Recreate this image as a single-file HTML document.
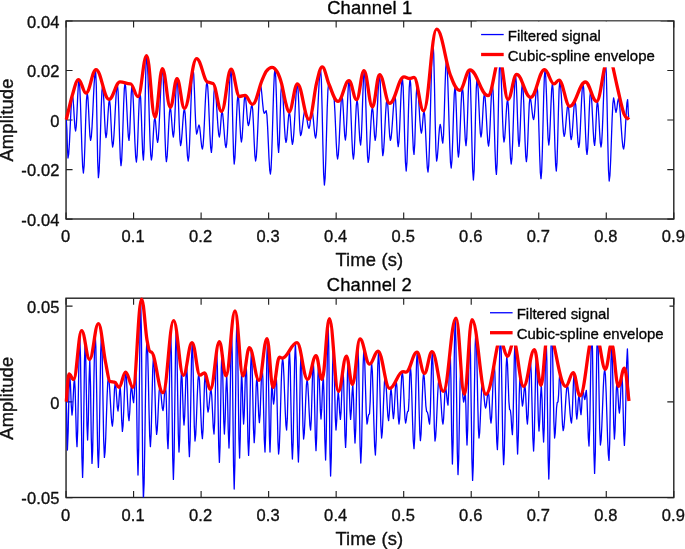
<!DOCTYPE html>
<html lang="en"><head><meta charset="utf-8"><title>Filtered signal and cubic-spline envelope</title>
<style>
html,body{margin:0;padding:0;background:#fff;}
body{width:685px;height:549px;overflow:hidden;}
svg{display:block;will-change:transform;font-family:"Liberation Sans",sans-serif;}
text{stroke:#111;stroke-width:.35px;stroke-linejoin:round;}
.tk{font-size:16.5px;letter-spacing:.15px;fill:#111;}
.lg{font-size:14.95px;fill:#000;}
.lb{font-size:18.4px;letter-spacing:.15px;fill:#111;}
.tt{font-size:18.4px;letter-spacing:.15px;fill:#000;}
</style></head><body>
<svg width="685" height="549" viewBox="0 0 685 549">
<defs><clipPath id="c1"><rect x="66.05" y="20.95" width="607.75" height="198.05"/></clipPath>
<clipPath id="c2"><rect x="66.05" y="298.20" width="607.75" height="199.30"/></clipPath></defs>
<rect width="685" height="549" fill="#fff"/>
<rect x="66.05" y="20.95" width="607.75" height="198.05" fill="none" stroke="#222" stroke-width="1.4"/><path d="M66.05 219.00v-6.50M66.05 20.95v6.50M133.58 219.00v-6.50M133.58 20.95v6.50M201.11 219.00v-6.50M201.11 20.95v6.50M268.63 219.00v-6.50M268.63 20.95v6.50M336.16 219.00v-6.50M336.16 20.95v6.50M403.69 219.00v-6.50M403.69 20.95v6.50M471.22 219.00v-6.50M471.22 20.95v6.50M538.74 219.00v-6.50M538.74 20.95v6.50M606.27 219.00v-6.50M606.27 20.95v6.50M673.80 219.00v-6.50M673.80 20.95v6.50M66.05 20.95h6.50M673.80 20.95h-6.50M66.05 70.49h6.50M673.80 70.49h-6.50M66.05 120.03h6.50M673.80 120.03h-6.50M66.05 169.56h6.50M673.80 169.56h-6.50M66.05 219.10h6.50M673.80 219.10h-6.50" stroke="#222" stroke-width="1.15" fill="none"/><text x="65.65" y="242.40" text-anchor="middle" class="tk">0</text><text x="133.18" y="242.40" text-anchor="middle" class="tk">0.1</text><text x="200.71" y="242.40" text-anchor="middle" class="tk">0.2</text><text x="268.23" y="242.40" text-anchor="middle" class="tk">0.3</text><text x="335.76" y="242.40" text-anchor="middle" class="tk">0.4</text><text x="403.29" y="242.40" text-anchor="middle" class="tk">0.5</text><text x="470.82" y="242.40" text-anchor="middle" class="tk">0.6</text><text x="538.34" y="242.40" text-anchor="middle" class="tk">0.7</text><text x="605.87" y="242.40" text-anchor="middle" class="tk">0.8</text><text x="673.40" y="242.40" text-anchor="middle" class="tk">0.9</text><text x="59.6" y="27.75" text-anchor="end" class="tk">0.04</text><text x="59.6" y="77.29" text-anchor="end" class="tk">0.02</text><text x="59.6" y="126.83" text-anchor="end" class="tk">0</text><text x="59.6" y="176.36" text-anchor="end" class="tk">-0.02</text><text x="59.6" y="225.90" text-anchor="end" class="tk">-0.04</text>
<path clip-path="url(#c1)" d="M66.30 119.70L66.87 129.28 67.43 148.43 68.00 158.00 68.73 153.80 69.47 142.32 70.20 126.65 70.93 110.97 71.67 99.50 72.40 95.30 73.04 98.71 73.68 107.63 74.32 118.67 74.96 127.59 75.60 131.00 76.28 126.13 76.96 113.39 77.64 97.65 78.32 84.91 79.00 80.04 79.73 86.27 80.47 103.28 81.20 126.52 81.93 149.76 82.67 166.77 83.40 173.00 84.16 165.33 84.92 145.25 85.68 120.43 86.44 100.35 87.20 92.68 87.88 97.24 88.56 109.17 89.24 123.91 89.92 135.84 90.60 140.40 91.31 136.91 92.03 127.14 92.74 113.03 93.46 97.36 94.17 83.24 94.89 73.48 95.60 69.99 96.30 85.75 97.00 123.79 97.70 161.84 98.40 177.60 99.10 171.41 99.80 154.48 100.50 131.37 101.20 108.25 101.90 91.32 102.60 85.13 103.28 90.14 103.96 103.26 104.64 119.47 105.32 132.59 106.00 137.60 106.70 133.96 107.40 124.44 108.10 112.67 108.80 103.15 109.50 99.52 110.28 106.47 111.05 123.26 111.82 140.05 112.60 147.00 113.29 143.90 113.97 135.21 114.66 122.65 115.34 108.71 116.03 96.15 116.71 87.45 117.40 84.35 118.12 92.11 118.84 112.42 119.56 137.53 120.28 157.84 121.00 165.60 121.67 160.07 122.33 144.98 123.00 124.35 123.67 103.73 124.33 88.63 125.00 83.10 125.67 86.94 126.33 97.43 127.00 111.75 127.67 126.08 128.33 136.56 129.00 140.40 129.75 132.32 130.50 112.81 131.25 93.30 132.00 85.22 132.73 90.36 133.47 104.41 134.20 123.61 134.93 142.80 135.67 156.86 136.40 162.00 137.12 155.33 137.84 137.87 138.56 116.30 139.28 98.84 140.00 92.17 140.68 98.65 141.36 115.60 142.04 136.57 142.72 153.52 143.40 160.00 144.04 150.06 144.68 124.03 145.32 91.87 145.96 65.84 146.60 55.90 147.29 61.05 147.97 75.50 148.66 96.37 149.34 119.53 150.03 140.40 150.71 154.85 151.40 160.00 152.08 155.94 152.76 145.32 153.44 132.19 154.12 121.57 154.80 117.51 155.50 121.15 156.20 129.95 156.90 138.75 157.60 142.40 158.29 138.76 158.97 128.56 159.66 113.83 160.34 97.47 161.03 82.74 161.71 72.54 162.40 68.90 163.07 75.11 163.73 92.07 164.40 115.25 165.07 138.42 165.73 155.39 166.40 161.60 167.16 156.44 167.92 142.92 168.68 126.22 169.44 112.70 170.20 107.54 170.84 110.35 171.48 117.72 172.12 126.82 172.76 134.19 173.40 137.00 174.12 131.45 174.84 116.93 175.56 98.97 176.28 84.45 177.00 78.90 177.72 85.27 178.44 101.94 179.16 122.56 179.88 139.23 180.60 145.60 181.36 142.07 182.12 132.82 182.88 121.38 183.64 112.13 184.40 108.60 185.16 113.60 185.92 126.70 186.68 142.90 187.44 156.00 188.20 161.00 188.89 156.41 189.57 143.54 190.26 124.94 190.94 104.30 191.63 85.71 192.31 72.84 193.00 68.25 193.72 74.52 194.44 90.96 195.16 111.28 195.88 127.72 196.60 134.00 197.40 131.75 198.20 127.25 199.00 125.00 199.68 127.29 200.36 133.29 201.04 140.71 201.72 146.71 202.40 149.00 203.06 145.68 203.71 136.38 204.37 122.94 205.03 108.02 205.69 94.57 206.34 85.27 207.00 81.95 207.73 86.67 208.47 99.56 209.20 117.18 209.93 134.79 210.67 147.68 211.40 152.40 212.04 146.12 212.68 129.70 213.32 109.39 213.96 92.96 214.60 86.69 215.29 89.18 215.97 96.16 216.66 106.25 217.34 117.44 218.03 127.53 218.71 134.51 219.40 137.00 220.05 133.25 220.70 124.21 221.35 115.17 222.00 111.42 222.67 113.84 223.33 120.47 224.00 129.51 224.67 138.56 225.33 145.18 226.00 147.60 226.71 143.73 227.43 132.90 228.14 117.24 228.86 99.86 229.57 84.20 230.29 73.37 231.00 69.50 231.64 78.52 232.28 102.15 232.92 131.35 233.56 154.98 234.20 164.00 234.96 157.39 235.72 140.07 236.48 118.67 237.24 101.36 238.00 94.74 238.68 99.26 239.36 111.07 240.04 125.67 240.72 137.49 241.40 142.00 242.12 137.58 242.84 125.99 243.56 111.68 244.28 100.10 245.00 95.67 245.68 98.53 246.36 106.01 247.04 115.26 247.72 122.74 248.40 125.60 249.12 123.60 249.84 118.35 250.56 111.86 251.28 106.61 252.00 104.60 252.72 109.99 253.44 124.09 254.16 141.52 254.88 155.61 255.60 161.00 256.29 157.25 256.97 146.74 257.66 131.55 258.34 114.70 259.03 99.51 259.71 89.00 260.40 85.25 261.16 87.94 261.92 94.98 262.68 103.67 263.44 110.71 264.20 113.40 264.87 112.75 265.53 111.45 266.20 110.80 266.90 115.03 267.60 126.60 268.30 142.40 269.00 158.20 269.70 169.77 270.40 174.00 271.06 168.80 271.71 154.25 272.37 133.21 273.03 109.86 273.69 88.82 274.34 74.26 275.00 69.06 275.72 77.02 276.44 97.86 277.16 123.61 277.88 144.44 278.60 152.40 279.35 142.37 280.10 118.15 280.85 93.93 281.60 83.90 282.33 87.82 283.07 98.52 283.80 113.15 284.53 127.78 285.27 138.48 286.00 142.40 286.68 139.50 287.36 131.92 288.04 122.55 288.72 114.97 289.40 112.07 290.15 116.81 290.90 128.24 291.65 139.67 292.40 144.40 293.11 141.42 293.83 133.09 294.54 121.04 295.26 107.66 295.97 95.61 296.69 87.28 297.40 84.30 298.04 89.20 298.68 102.02 299.32 117.88 299.96 130.70 300.60 135.60 301.33 133.93 302.07 129.35 302.80 123.11 303.53 116.86 304.27 112.28 305.00 110.61 305.67 111.80 306.33 115.06 307.00 119.51 307.67 123.95 308.33 127.21 309.00 128.40 309.75 125.87 310.50 119.75 311.25 113.63 312.00 111.10 312.72 113.66 313.44 120.39 314.16 128.70 314.88 135.43 315.60 138.00 316.31 134.57 317.03 124.96 317.74 111.07 318.46 95.66 319.17 81.77 319.89 72.16 320.60 68.73 321.36 79.83 322.12 108.90 322.88 144.83 323.64 173.90 324.40 185.00 325.10 178.21 325.80 159.66 326.50 134.32 327.20 108.98 327.90 90.43 328.60 83.64 329.24 84.41 329.88 86.44 330.52 88.94 331.16 90.96 331.80 91.73 332.40 92.88 333.00 95.17 333.60 96.31 334.27 100.51 334.93 111.98 335.60 127.66 336.27 143.33 336.93 154.80 337.60 159.00 338.33 154.76 339.07 143.19 339.80 127.38 340.53 111.58 341.27 100.00 342.00 95.77 342.68 99.99 343.36 111.05 344.04 124.72 344.72 135.78 345.40 140.00 346.12 134.36 346.84 119.58 347.56 101.32 348.28 86.54 349.00 80.90 349.73 86.13 350.47 100.42 351.20 119.95 351.93 139.47 352.67 153.77 353.40 159.00 354.12 153.35 354.84 138.55 355.56 120.26 356.28 105.47 357.00 99.81 357.72 104.13 358.44 115.43 359.16 129.39 359.88 140.69 360.60 145.00 361.32 137.93 362.04 119.42 362.76 96.54 363.48 78.02 364.20 70.95 364.87 77.08 365.53 93.82 366.20 116.68 366.87 139.54 367.53 156.27 368.20 162.40 368.90 158.70 369.60 148.60 370.30 134.80 371.00 121.00 371.70 110.90 372.40 107.20 373.10 112.06 373.80 123.80 374.50 135.54 375.20 140.40 375.93 136.01 376.67 124.03 377.40 107.65 378.13 91.28 378.87 79.29 379.60 74.90 380.24 82.61 380.88 102.78 381.52 127.72 382.16 147.89 382.80 155.60 383.50 151.83 384.20 141.55 384.90 127.50 385.60 113.44 386.30 103.16 387.00 99.39 387.68 103.31 388.36 113.56 389.04 126.23 389.72 136.48 390.40 140.40 391.06 138.19 391.71 131.99 392.37 123.03 393.03 113.09 393.69 104.14 394.34 97.94 395.00 95.73 395.64 100.59 396.28 113.30 396.92 129.02 397.56 141.74 398.20 146.60 398.90 142.00 399.60 129.44 400.30 112.28 401.00 95.12 401.70 82.56 402.40 77.96 403.16 86.84 403.92 110.10 404.68 138.86 405.44 162.12 406.20 171.00 406.96 162.19 407.72 139.14 408.48 110.64 409.24 87.58 410.00 78.77 410.67 83.84 411.33 97.68 412.00 116.59 412.67 135.49 413.33 149.33 414.00 154.40 414.75 144.20 415.50 119.56 416.25 94.93 417.00 84.73 417.73 87.96 418.47 96.80 419.20 108.86 419.93 120.93 420.67 129.77 421.40 133.00 422.05 129.78 422.70 122.02 423.35 114.25 424.00 111.03 424.67 115.12 425.33 126.27 426.00 141.52 426.67 156.76 427.33 167.92 428.00 172.00 428.71 165.62 429.43 147.73 430.14 121.88 430.86 93.19 431.57 67.34 432.29 49.45 433.00 43.07 433.72 54.33 434.44 83.81 435.16 120.26 435.88 149.74 436.60 161.00 437.32 157.51 438.04 148.36 438.76 137.04 439.48 127.89 440.20 124.40 440.85 127.12 441.50 133.70 442.15 140.28 442.80 143.00 443.52 135.13 444.24 114.52 444.96 89.05 445.68 68.44 446.40 60.56 447.09 65.88 447.77 80.79 448.46 102.33 449.14 126.24 449.83 147.77 450.51 162.68 451.20 168.00 451.96 160.21 452.72 139.83 453.48 114.64 454.24 94.26 455.00 86.47 455.68 93.21 456.36 110.84 457.04 132.63 457.72 150.27 458.40 157.00 459.07 152.34 459.73 139.60 460.40 122.21 461.07 104.81 461.73 92.08 462.40 87.42 463.12 92.97 463.84 107.52 464.56 125.50 465.28 140.04 466.00 145.60 466.72 138.42 467.44 119.61 468.16 96.36 468.88 77.55 469.60 70.37 470.36 80.84 471.12 108.25 471.88 142.12 472.64 169.53 473.40 180.00 474.12 170.31 474.84 144.94 475.56 113.58 476.28 88.21 477.00 78.52 477.67 82.44 478.33 93.14 479.00 107.76 479.67 122.38 480.33 133.08 481.00 137.00 481.68 132.87 482.36 122.06 483.04 108.71 483.72 97.90 484.40 93.77 485.10 97.27 485.80 106.83 486.50 119.89 487.20 132.94 487.90 142.50 488.60 146.00 489.36 140.17 490.12 124.92 490.88 106.06 491.64 90.81 492.40 84.98 493.07 90.97 493.73 107.33 494.40 129.69 495.07 152.04 495.73 168.41 496.40 174.40 497.12 163.49 497.84 134.91 498.56 99.59 499.28 71.02 500.00 60.11 500.67 65.59 501.33 80.58 502.00 101.05 502.67 121.53 503.33 136.51 504.00 142.00 504.72 137.93 505.44 127.28 506.16 114.11 506.88 103.46 507.60 99.39 508.32 105.56 509.04 121.71 509.76 141.68 510.48 157.83 511.20 164.00 511.93 158.07 512.67 141.86 513.40 119.71 514.13 97.57 514.87 81.36 515.60 75.42 516.28 82.20 516.96 99.95 517.64 121.88 518.32 139.62 519.00 146.40 519.68 140.34 520.36 124.47 521.04 104.86 521.72 88.99 522.40 82.93 523.07 88.20 523.73 102.60 524.40 122.27 525.07 141.93 525.73 156.33 526.40 161.60 527.12 155.48 527.84 139.45 528.56 119.65 529.28 103.62 530.00 97.50 530.72 99.61 531.44 105.14 532.16 111.97 532.88 117.49 533.60 119.60 534.28 116.37 534.96 107.90 535.64 97.43 536.32 88.96 537.00 85.73 537.67 91.95 538.33 108.94 539.00 132.16 539.67 155.38 540.33 172.38 541.00 178.60 541.67 171.32 542.33 151.44 543.00 124.29 543.67 97.13 544.33 77.25 545.00 69.97 545.76 77.14 546.52 95.89 547.28 119.08 548.04 137.84 548.80 145.00 549.52 139.11 550.24 123.69 550.96 104.63 551.68 89.21 552.40 83.32 553.05 89.19 553.70 105.24 554.35 127.16 555.00 149.08 555.65 165.13 556.30 171.00 557.00 162.38 557.70 139.81 558.40 111.91 559.10 89.34 559.80 80.72 560.53 84.45 561.27 94.64 562.00 108.56 562.73 122.48 563.47 132.67 564.20 136.40 564.96 133.40 565.72 125.56 566.48 115.87 567.24 108.02 568.00 105.03 568.64 108.33 569.28 116.97 569.92 127.66 570.56 136.30 571.20 139.60 571.96 135.90 572.72 126.20 573.48 114.21 574.24 104.51 575.00 100.80 575.76 105.25 576.52 116.90 577.28 131.30 578.04 142.95 578.80 147.40 579.50 143.12 580.20 131.44 580.90 115.47 581.60 99.51 582.30 87.82 583.00 83.55 583.67 88.29 584.33 101.26 585.00 118.97 585.67 136.69 586.33 149.65 587.00 154.40 587.72 148.33 588.44 132.43 589.16 112.78 589.88 96.88 590.60 90.81 591.27 94.46 591.93 104.45 592.60 118.10 593.27 131.75 593.93 141.74 594.60 145.40 595.30 138.91 596.00 123.26 596.70 107.60 597.40 101.11 598.12 105.50 598.84 116.97 599.56 131.15 600.28 142.62 601.00 147.00 601.66 142.81 602.31 131.09 602.97 114.14 603.63 95.34 604.29 78.39 604.94 66.66 605.60 62.48 606.32 73.80 607.04 103.43 607.76 140.05 608.48 169.68 609.20 181.00 609.93 175.44 610.67 160.25 611.40 139.50 612.13 118.75 612.87 103.56 613.60 98.00 614.40 101.60 615.20 108.80 616.00 112.40 616.80 108.95 617.60 102.05 618.40 98.60 619.14 101.10 619.89 108.09 620.63 118.19 621.37 129.41 622.11 139.51 622.86 146.50 623.60 149.00 624.27 145.69 624.93 136.65 625.60 124.30 626.27 111.95 626.93 102.91 627.60 99.60 627.93 103.95 628.27 112.65 628.60 117.00" fill="none" stroke="#00f" stroke-width="1.3" stroke-linejoin="round"/>
<path d="M66.30 119.70C68.33 111.47 70.37 101.62 72.40 95.00C74.47 88.27 76.12 79.66 78.60 79.66C81.56 79.66 83.04 93.11 86.00 93.11C90.00 93.11 92.00 69.60 96.00 69.60C101.20 69.60 103.80 99.30 109.00 99.30C113.40 99.30 115.60 81.95 120.00 81.95C124.20 81.95 126.30 83.80 130.50 83.80C133.50 83.80 135.00 96.70 138.00 96.70C141.44 96.70 143.16 55.60 146.60 55.60C149.96 55.60 151.64 117.30 155.00 117.30C157.96 117.30 159.44 68.60 162.40 68.60C165.60 68.60 167.20 107.30 170.40 107.30C173.04 107.30 174.36 78.60 177.00 78.60C179.96 78.60 181.44 108.30 184.40 108.30C189.28 108.30 191.72 58.60 196.60 58.60C201.24 58.60 203.56 82.20 208.20 82.20C209.96 82.20 210.84 83.40 212.60 83.40C216.20 83.40 218.00 111.30 221.60 111.30C225.36 111.30 227.24 69.20 231.00 69.20C234.44 69.20 236.16 96.49 239.60 96.49C241.76 96.49 242.84 95.37 245.00 95.37C247.96 95.37 249.44 104.36 252.40 104.36C256.20 104.36 258.73 88.25 261.90 80.70C263.37 77.20 264.83 73.15 266.30 71.20C268.20 68.68 269.72 67.29 272.00 67.29C274.08 67.29 275.47 68.96 277.20 71.90C278.67 74.39 280.13 78.31 281.60 83.60C282.83 88.05 284.07 96.38 285.30 101.10C286.53 105.82 287.52 111.92 289.00 111.92C292.36 111.92 294.04 84.00 297.40 84.00C302.04 84.00 304.36 119.30 309.00 119.30C312.04 119.30 314.07 92.86 316.60 82.80C318.47 75.39 319.96 66.90 322.20 66.90C324.92 66.90 326.73 79.36 329.00 84.30C332.00 90.83 334.40 101.30 338.00 101.30C342.40 101.30 344.60 80.60 349.00 80.60C352.04 80.60 353.56 99.70 356.60 99.70C359.56 99.70 361.04 70.60 364.00 70.60C367.36 70.60 369.04 106.90 372.40 106.90C375.28 106.90 376.72 74.60 379.60 74.60C383.60 74.60 385.60 103.30 389.60 103.30C395.36 103.30 398.24 76.96 404.00 76.96C406.24 76.96 407.36 78.49 409.60 78.49C411.36 78.49 412.24 77.37 414.00 77.37C417.84 77.37 419.76 110.90 423.60 110.90C428.80 110.90 431.40 29.20 436.60 29.20C441.96 29.20 445.53 62.13 450.00 74.00C453.20 82.50 455.76 90.30 459.60 90.30C463.76 90.30 465.84 70.00 470.00 70.00C477.20 70.00 480.80 95.70 488.00 95.70C492.64 95.70 494.96 59.60 499.60 59.60C502.96 59.60 504.64 99.30 508.00 99.30C511.44 99.30 513.16 74.40 516.60 74.40C522.20 74.40 525.00 97.30 530.60 97.30C536.20 97.30 539.00 69.61 544.60 69.61C548.36 69.61 550.24 83.92 554.00 83.92C556.00 83.92 557.00 80.10 559.00 80.10C563.32 80.10 565.48 106.30 569.80 106.30C576.04 106.30 579.16 82.00 585.40 82.00C589.88 82.00 592.12 101.30 596.60 101.30C599.80 101.30 601.93 78.70 604.60 67.40C606.00 61.47 607.12 49.60 608.80 49.60C610.48 49.60 611.60 61.25 613.00 67.40C614.67 74.72 616.33 82.94 618.00 90.00C620.00 98.47 622.00 108.64 624.00 114.00C625.67 118.47 627.33 117.67 629.00 119.50" fill="none" stroke="#f00" stroke-width="3.3" stroke-linejoin="round" stroke-linecap="butt"/>
<rect x="476.60" y="21.60" width="184" height="45.7" fill="#fff"/><path d="M481.10 34.55h22.6" stroke="#00f" stroke-width="1.3"/><path d="M481.10 54.50h22.6" stroke="#f00" stroke-width="3.3"/><text x="507.80" y="40.70" class="lg">Filtered signal</text><text x="507.80" y="60.60" class="lg">Cubic-spline envelope</text>
<text x="369.8" y="13.6" text-anchor="middle" class="tt">Channel 1</text>
<text x="369.4" y="266.2" text-anchor="middle" class="lb">Time (s)</text>
<text transform="translate(13.4 120.0) rotate(-90)" text-anchor="middle" class="lb">Amplitude</text>
<rect x="66.05" y="298.20" width="607.75" height="199.30" fill="none" stroke="#222" stroke-width="1.4"/><path d="M66.05 497.50v-6.50M66.05 298.20v6.50M133.58 497.50v-6.50M133.58 298.20v6.50M201.11 497.50v-6.50M201.11 298.20v6.50M268.63 497.50v-6.50M268.63 298.20v6.50M336.16 497.50v-6.50M336.16 298.20v6.50M403.69 497.50v-6.50M403.69 298.20v6.50M471.22 497.50v-6.50M471.22 298.20v6.50M538.74 497.50v-6.50M538.74 298.20v6.50M606.27 497.50v-6.50M606.27 298.20v6.50M673.80 497.50v-6.50M673.80 298.20v6.50M66.05 306.10h6.50M673.80 306.10h-6.50M66.05 401.85h6.50M673.80 401.85h-6.50M66.05 497.60h6.50M673.80 497.60h-6.50" stroke="#222" stroke-width="1.15" fill="none"/><text x="65.65" y="520.90" text-anchor="middle" class="tk">0</text><text x="133.18" y="520.90" text-anchor="middle" class="tk">0.1</text><text x="200.71" y="520.90" text-anchor="middle" class="tk">0.2</text><text x="268.23" y="520.90" text-anchor="middle" class="tk">0.3</text><text x="335.76" y="520.90" text-anchor="middle" class="tk">0.4</text><text x="403.29" y="520.90" text-anchor="middle" class="tk">0.5</text><text x="470.82" y="520.90" text-anchor="middle" class="tk">0.6</text><text x="538.34" y="520.90" text-anchor="middle" class="tk">0.7</text><text x="605.87" y="520.90" text-anchor="middle" class="tk">0.8</text><text x="673.40" y="520.90" text-anchor="middle" class="tk">0.9</text><text x="59.6" y="312.90" text-anchor="end" class="tk">0.05</text><text x="59.6" y="408.65" text-anchor="end" class="tk">0</text><text x="59.6" y="504.40" text-anchor="end" class="tk">-0.05</text>
<path clip-path="url(#c2)" d="M66.30 401.60L66.67 413.70 67.03 437.90 67.40 450.00 68.17 431.11 68.93 393.33 69.70 374.44 70.47 384.58 71.23 404.86 72.00 415.00 72.62 409.65 73.25 396.72 73.88 383.79 74.50 378.44 75.12 388.42 75.75 412.52 76.38 436.62 77.00 446.60 77.70 430.44 78.40 391.43 79.10 352.42 79.80 336.27 80.50 356.94 81.20 406.83 81.90 456.73 82.60 477.40 83.22 457.61 83.85 409.84 84.47 362.07 85.10 342.29 85.72 356.60 86.35 391.14 86.97 425.69 87.60 440.00 88.33 419.89 89.07 379.66 89.80 359.55 90.53 385.51 91.27 437.44 92.00 463.40 92.64 451.04 93.28 418.68 93.92 378.68 94.56 346.32 95.20 333.96 95.84 346.70 96.48 380.06 97.12 421.30 97.76 454.66 98.40 467.40 99.15 447.85 99.90 400.65 100.65 353.45 101.40 333.90 102.15 351.98 102.90 395.65 103.65 439.31 104.40 457.40 105.07 452.03 105.73 437.37 106.40 417.34 107.07 397.30 107.73 382.64 108.40 377.27 109.07 380.54 109.73 389.45 110.40 401.64 111.07 413.82 111.73 422.74 112.40 426.00 113.10 419.66 113.80 404.35 114.50 389.04 115.20 382.70 115.90 386.85 116.60 396.85 117.30 406.86 118.00 411.00 118.73 404.86 119.47 392.59 120.20 386.45 120.93 397.69 121.67 420.16 122.40 431.40 123.06 425.78 123.72 411.06 124.38 392.87 125.04 378.15 125.70 372.53 126.36 377.12 127.02 389.14 127.68 403.99 128.34 416.01 129.00 420.60 129.77 411.91 130.53 394.52 131.30 385.82 132.07 390.02 132.83 398.41 133.60 402.60 134.33 393.81 135.07 376.23 135.80 367.45 136.53 394.33 137.27 448.11 138.00 475.00 138.68 449.59 139.35 388.25 140.02 326.90 140.70 301.50 141.38 330.42 142.05 400.25 142.72 470.08 143.40 499.00 144.10 483.79 144.80 443.97 145.50 394.74 146.20 354.92 146.90 339.71 147.60 349.91 148.30 376.64 149.00 409.67 149.70 436.39 150.40 446.60 151.18 433.35 151.95 401.37 152.72 369.38 153.50 356.14 154.28 367.60 155.05 395.27 155.82 422.94 156.60 434.40 157.24 429.85 157.88 417.93 158.52 403.20 159.16 391.29 159.80 386.73 160.44 389.01 161.08 394.98 161.72 402.35 162.36 408.32 163.00 410.60 163.62 406.75 164.25 397.45 164.88 388.15 165.50 384.30 166.12 393.71 166.75 416.45 167.38 439.18 168.00 448.60 168.68 431.61 169.35 390.59 170.02 349.57 170.70 332.58 171.38 354.08 172.05 405.99 172.72 457.90 173.40 479.40 174.10 457.41 174.80 404.32 175.50 351.23 176.20 329.24 176.90 347.22 177.60 390.62 178.30 434.02 179.00 452.00 179.62 440.16 180.25 411.58 180.88 382.99 181.50 371.16 182.12 379.04 182.75 398.08 183.38 417.11 184.00 425.00 184.68 416.27 185.35 395.20 186.02 374.13 186.70 365.40 187.38 378.76 188.05 411.00 188.72 443.24 189.40 456.60 190.10 439.96 190.80 399.78 191.50 359.59 192.20 342.95 192.90 357.31 193.60 391.98 194.30 426.64 195.00 441.00 195.74 434.57 196.48 417.72 197.22 396.90 197.96 380.06 198.70 373.62 199.44 379.83 200.18 396.07 200.92 416.15 201.66 432.40 202.40 438.60 203.10 429.12 203.80 406.24 204.50 383.35 205.20 373.87 205.90 379.46 206.60 392.94 207.30 406.42 208.00 412.00 208.75 408.65 209.50 400.57 210.25 392.48 211.00 389.13 211.75 395.70 212.50 411.57 213.25 427.43 214.00 434.00 214.68 421.87 215.35 392.59 216.02 363.30 216.70 351.17 217.38 367.46 218.05 406.79 218.72 446.11 219.40 462.40 220.03 446.28 220.65 407.37 221.28 368.46 221.90 352.34 222.53 364.30 223.15 393.17 223.78 422.04 224.40 434.00 225.17 419.34 225.93 390.01 226.70 375.34 227.47 393.51 228.23 429.84 229.00 448.00 229.65 430.86 230.30 389.48 230.95 348.10 231.60 330.96 232.25 354.11 232.90 409.98 233.55 465.86 234.20 489.00 234.88 464.14 235.55 404.12 236.22 344.10 236.90 319.24 237.57 339.56 238.25 388.62 238.92 437.68 239.60 458.00 240.27 436.47 240.93 393.42 241.60 371.89 242.27 384.92 242.93 410.97 243.60 424.00 244.22 415.04 244.85 393.39 245.47 371.75 246.10 362.79 246.72 376.35 247.35 409.09 247.97 441.84 248.60 455.40 249.30 440.11 250.00 403.19 250.70 366.27 251.40 350.98 252.10 364.40 252.80 396.79 253.50 429.18 254.20 442.60 254.85 432.97 255.50 409.74 256.15 386.50 256.80 376.87 257.45 383.57 258.10 399.74 258.75 415.90 259.40 422.60 260.10 414.39 260.80 394.57 261.50 374.75 262.20 366.54 262.90 379.06 263.60 409.27 264.30 439.49 265.00 452.00 265.62 435.54 266.25 395.81 266.88 356.08 267.50 339.63 268.12 356.08 268.75 395.81 269.38 435.54 270.00 452.00 270.60 434.84 271.20 400.53 271.80 383.38 272.40 388.53 273.00 398.84 273.60 404.00 274.23 399.56 274.85 388.85 275.48 378.13 276.10 373.70 276.73 385.46 277.35 413.85 277.98 442.24 278.60 454.00 279.27 447.59 279.93 430.09 280.60 406.17 281.27 382.26 281.93 364.76 282.60 358.35 283.27 363.15 283.93 376.26 284.60 394.17 285.27 412.09 285.93 425.20 286.60 430.00 287.33 418.40 288.05 390.41 288.77 362.41 289.50 350.81 290.23 366.66 290.95 404.91 291.67 443.16 292.40 459.00 293.15 442.05 293.90 401.15 294.65 360.24 295.40 343.29 296.15 360.68 296.90 402.65 297.65 444.62 298.40 462.00 299.05 446.18 299.70 408.00 300.35 369.81 301.00 354.00 301.65 366.44 302.30 396.50 302.95 426.55 303.60 439.00 304.30 433.31 305.00 418.41 305.70 400.00 306.40 385.10 307.10 379.41 307.80 384.24 308.50 396.89 309.20 412.52 309.90 425.17 310.60 430.00 311.28 419.92 311.95 395.58 312.62 371.25 313.30 361.17 313.98 374.27 314.65 405.88 315.32 437.50 316.00 450.60 316.62 437.99 317.25 407.56 317.88 377.12 318.50 364.51 319.12 372.49 319.75 391.76 320.38 411.02 321.00 419.00 321.77 408.13 322.53 386.40 323.30 375.54 324.07 396.65 324.83 438.88 325.60 460.00 326.23 439.93 326.85 391.48 327.48 343.03 328.10 322.96 328.73 345.37 329.35 399.48 329.98 453.59 330.60 476.00 331.28 457.15 331.95 411.63 332.62 366.11 333.30 347.25 333.98 359.37 334.65 388.63 335.32 417.88 336.00 430.00 336.73 420.37 337.47 401.12 338.20 391.50 338.93 398.47 339.67 412.42 340.40 419.40 341.05 412.12 341.70 394.56 342.35 376.99 343.00 369.72 343.65 381.10 344.30 408.56 344.95 436.02 345.60 447.40 346.23 434.80 346.85 404.39 347.48 373.98 348.10 361.38 348.73 369.88 349.35 390.39 349.98 410.90 350.60 419.40 351.33 410.63 352.07 393.09 352.80 384.32 353.53 398.99 354.27 428.33 355.00 443.00 355.73 428.91 356.45 394.89 357.17 360.88 357.90 346.79 358.62 363.81 359.35 404.89 360.07 445.98 360.80 463.00 361.57 446.16 362.35 405.50 363.12 364.83 363.90 347.99 364.67 359.12 365.45 386.00 366.23 412.87 367.00 424.00 367.57 421.65 368.13 416.95 368.70 414.60 368.97 414.43 369.23 414.07 369.50 413.90 370.20 401.12 370.90 375.56 371.60 362.79 372.36 371.59 373.12 394.65 373.88 423.14 374.64 446.19 375.40 455.00 376.17 439.88 376.95 403.37 377.73 366.86 378.50 351.74 379.27 364.37 380.05 394.87 380.83 425.37 381.60 438.00 382.30 432.16 383.00 416.86 383.70 397.95 384.40 382.66 385.10 376.82 385.80 381.00 386.50 391.94 387.20 405.47 387.90 416.42 388.60 420.60 389.40 412.50 390.20 396.30 391.00 388.20 391.80 395.80 392.60 411.00 393.40 418.60 394.10 413.01 394.80 399.53 395.50 386.04 396.20 380.45 396.90 386.83 397.60 402.23 398.30 417.62 399.00 424.00 399.66 419.03 400.32 406.03 400.98 389.96 401.64 376.96 402.30 371.99 402.96 376.86 403.62 389.61 404.28 405.38 404.94 418.13 405.60 423.00 406.27 420.15 406.93 414.45 407.60 411.60 407.87 411.43 408.13 411.07 408.40 410.90 409.03 399.66 409.67 377.17 410.30 365.93 411.04 373.83 411.78 394.49 412.52 420.04 413.26 440.71 414.00 448.60 414.64 439.43 415.28 415.41 415.92 385.72 416.56 361.71 417.20 352.54 417.84 360.94 418.48 382.96 419.12 410.17 419.76 432.19 420.40 440.60 421.04 434.15 421.68 417.27 422.32 396.40 422.96 379.52 423.60 373.07 424.35 378.68 425.10 392.23 425.85 405.79 426.60 411.40 426.87 411.60 427.13 412.00 427.40 412.20 428.13 415.15 428.87 421.05 429.60 424.00 430.28 413.45 430.95 387.98 431.62 362.51 432.30 351.97 432.98 365.00 433.65 396.48 434.32 427.96 435.00 441.00 435.67 436.85 436.33 425.52 437.00 410.04 437.67 394.56 438.33 383.23 439.00 379.08 439.67 382.09 440.33 390.31 441.00 401.54 441.67 412.77 442.33 420.99 443.00 424.00 443.62 418.61 444.25 405.61 444.88 392.60 445.50 387.21 446.12 389.82 446.75 396.11 447.38 402.39 448.00 405.00 448.73 391.29 449.47 363.88 450.20 350.18 450.93 378.63 451.67 435.54 452.40 464.00 453.10 442.77 453.80 391.52 454.50 340.27 455.20 319.04 455.90 341.82 456.60 396.82 457.30 451.82 458.00 474.60 458.70 458.62 459.40 420.03 460.10 381.45 460.80 365.47 461.50 370.82 462.20 383.73 462.90 396.65 463.60 402.00 464.17 399.59 464.73 394.76 465.30 392.34 465.87 405.51 466.43 431.84 467.00 445.00 467.70 428.66 468.40 389.21 469.10 349.77 469.80 333.43 470.50 354.95 471.20 406.91 471.90 458.88 472.60 480.40 473.24 466.21 473.88 429.06 474.52 383.15 475.16 346.00 475.80 331.81 476.44 341.95 477.08 368.50 477.72 401.31 478.36 427.86 479.00 438.00 479.66 432.78 480.32 419.10 480.98 402.20 481.64 388.52 482.30 383.30 482.96 385.66 483.62 391.83 484.28 399.47 484.94 405.64 485.60 408.00 486.28 405.64 486.95 399.95 487.62 394.27 488.30 391.91 488.98 396.46 489.65 407.45 490.32 418.45 491.00 423.00 491.64 417.37 492.28 402.62 492.92 384.39 493.56 369.65 494.20 364.01 494.84 372.19 495.48 393.58 496.12 420.03 496.76 441.43 497.40 449.60 498.17 432.53 498.95 391.33 499.73 350.13 500.50 333.06 501.27 352.33 502.05 398.83 502.83 445.34 503.60 464.60 504.24 454.25 504.88 427.16 505.52 393.68 506.16 366.59 506.80 356.24 507.50 364.02 508.20 382.82 508.90 401.61 509.60 409.40 509.87 409.60 510.13 410.00 510.40 410.20 511.07 416.30 511.73 428.50 512.40 434.60 513.05 421.11 513.70 388.55 514.35 355.98 515.00 342.49 515.65 358.82 516.30 398.25 516.95 437.67 517.60 454.00 518.40 434.22 519.20 394.67 520.00 374.90 520.80 382.67 521.60 398.22 522.40 406.00 523.02 402.99 523.65 395.73 524.27 388.46 524.90 385.45 525.52 391.10 526.15 404.73 526.77 418.35 527.40 424.00 528.17 414.64 528.95 392.05 529.73 369.46 530.50 360.11 531.27 373.42 532.05 405.55 532.83 437.69 533.60 451.00 534.27 437.13 534.95 403.65 535.62 370.17 536.30 356.30 536.97 367.24 537.65 393.65 538.33 420.06 539.00 431.00 539.77 419.59 540.53 396.76 541.30 385.34 542.07 399.51 542.83 427.84 543.60 442.00 544.25 427.16 544.90 391.32 545.55 355.48 546.20 340.63 546.85 360.90 547.50 409.82 548.15 458.74 548.80 479.00 549.52 456.71 550.25 402.90 550.98 349.09 551.70 326.80 552.43 343.08 553.15 382.40 553.88 421.71 554.60 438.00 555.25 432.82 555.90 420.30 556.55 407.78 557.20 402.60 557.47 402.43 557.73 402.07 558.00 401.90 558.60 394.76 559.20 380.48 559.80 373.34 560.48 378.80 561.16 393.12 561.84 410.82 562.52 425.13 563.20 430.60 563.89 427.57 564.58 419.28 565.28 407.96 565.97 396.65 566.66 388.36 567.35 385.33 568.04 387.85 568.73 394.75 569.42 404.16 570.12 413.58 570.81 420.48 571.50 423.00 572.16 415.81 572.83 398.46 573.49 381.11 574.15 373.92 574.81 380.53 575.47 396.46 576.14 412.40 576.80 419.00 577.50 412.95 578.20 400.84 578.90 394.79 579.60 399.74 580.30 409.65 581.00 414.60 581.60 408.47 582.20 396.21 582.80 390.08 583.47 392.44 584.13 397.15 584.80 399.50 585.30 397.23 585.80 392.68 586.30 390.40 586.97 398.54 587.65 418.20 588.33 437.86 589.00 446.00 589.70 428.98 590.40 387.88 591.10 346.79 591.80 329.77 592.50 350.80 593.20 401.58 593.90 452.37 594.60 473.40 595.33 452.53 596.05 402.16 596.77 351.79 597.50 330.92 598.23 347.63 598.95 387.96 599.67 428.29 600.40 445.00 601.12 439.92 601.83 426.04 602.55 407.07 603.27 388.11 603.98 374.23 604.70 369.14 605.42 375.26 606.13 391.96 606.85 414.77 607.57 437.59 608.28 454.29 609.00 460.40 609.67 443.34 610.35 402.17 611.03 360.99 611.70 343.94 612.38 357.86 613.05 391.47 613.73 425.08 614.40 439.00 615.02 430.67 615.65 410.55 616.27 390.43 616.90 382.10 617.52 386.62 618.15 397.55 618.77 408.47 619.40 413.00 620.02 407.45 620.65 394.04 621.27 380.63 621.90 375.08 622.52 385.37 623.15 410.24 623.77 435.10 624.40 445.40 625.15 431.28 625.90 397.20 626.65 363.12 627.40 349.00 627.93 361.75 628.47 387.25 629.00 400.00" fill="none" stroke="#00f" stroke-width="1.3" stroke-linejoin="round"/>
<path d="M66.30 401.60C67.20 392.35 67.92 373.86 69.00 373.86C70.84 373.86 71.76 379.46 73.60 379.46C76.80 379.46 78.40 330.60 81.60 330.60C84.80 330.60 86.40 359.30 89.60 359.30C93.12 359.30 94.88 323.60 98.40 323.60C101.24 323.60 103.13 350.75 105.50 362.00C107.20 370.08 108.56 381.60 110.60 381.60C112.20 381.60 113.00 382.20 114.60 382.20C116.36 382.20 117.24 387.23 119.00 387.23C121.64 387.23 122.96 372.22 125.60 372.22C128.56 372.22 130.04 387.24 133.00 387.24C136.44 387.24 138.16 299.10 141.60 299.10C143.76 299.10 145.20 329.87 147.00 340.00C148.33 347.50 149.40 352.00 151.00 352.00C155.80 352.00 158.20 392.70 163.00 392.70C167.24 392.70 169.36 320.60 173.60 320.60C177.52 320.60 179.48 375.30 183.40 375.30C186.84 375.30 188.56 342.60 192.00 342.60C195.20 342.60 196.80 375.19 200.00 375.19C201.76 375.19 202.64 372.94 204.40 372.94C206.80 372.94 208.00 389.30 210.40 389.30C214.00 389.30 215.80 341.60 219.40 341.60C222.04 341.60 223.36 375.90 226.00 375.90C229.60 375.90 231.40 311.00 235.00 311.00C238.20 311.00 239.80 375.90 243.00 375.90C245.56 375.90 246.84 347.60 249.40 347.60C253.24 347.60 255.16 380.30 259.00 380.30C262.20 380.30 263.80 338.60 267.00 338.60C269.40 338.60 270.60 387.30 273.00 387.30C275.60 387.30 276.90 357.18 279.50 357.18C280.58 357.18 281.12 358.07 282.20 358.07C288.12 358.07 291.08 342.60 297.00 342.60C301.24 342.60 303.36 379.30 307.60 379.30C310.96 379.30 312.64 355.60 316.00 355.60C318.40 355.60 319.60 379.30 322.00 379.30C324.96 379.30 326.44 318.60 329.40 318.60C333.00 318.60 334.80 391.30 338.40 391.30C341.60 391.30 343.20 356.20 346.40 356.20C348.80 356.20 350.00 384.30 352.40 384.30C355.44 384.30 356.96 339.00 360.00 339.00C363.84 339.00 365.76 364.06 369.60 364.06C372.96 364.06 374.64 351.27 378.00 351.27C382.64 351.27 384.96 388.30 389.60 388.30C394.96 388.30 397.64 371.59 403.00 371.59C404.20 371.59 404.80 372.04 406.00 372.04C410.40 372.04 412.60 352.20 417.00 352.20C419.96 352.20 421.44 373.30 424.40 373.30C427.44 373.30 428.96 351.60 432.00 351.60C436.56 351.60 438.84 391.30 443.40 391.30C448.44 391.30 450.96 318.10 456.00 318.10C459.36 318.10 461.04 394.30 464.40 394.30C467.44 394.30 468.96 319.60 472.00 319.60C477.60 319.60 480.40 394.30 486.00 394.30C490.64 394.30 493.73 362.07 497.60 345.40C498.50 341.52 499.22 332.65 500.30 332.65C501.38 332.65 502.10 342.48 503.00 345.40C504.53 350.37 505.76 356.33 507.60 356.33C509.20 356.33 510.27 349.52 511.60 345.40C512.27 343.34 512.80 337.79 513.60 337.79C514.40 337.79 514.93 342.17 515.60 345.40C518.27 358.34 520.40 386.30 523.60 386.30C527.92 386.30 530.08 349.60 534.40 349.60C537.04 349.60 538.36 385.30 541.00 385.30C542.84 385.30 544.07 357.20 545.60 345.40C547.00 334.63 548.12 317.60 549.80 317.60C551.48 317.60 552.60 339.39 554.00 345.40C557.93 362.30 561.08 386.33 565.80 386.33C568.76 386.33 570.24 372.65 573.20 372.65C575.92 372.65 577.28 395.80 580.00 395.80C583.84 395.80 586.40 362.54 589.60 345.40C591.27 336.47 592.60 317.60 594.60 317.60C596.60 317.60 597.93 337.42 599.60 345.40C601.53 354.65 603.08 369.30 605.40 369.30C607.88 369.30 609.12 343.60 611.60 343.60C614.32 343.60 615.68 386.30 618.40 386.30C620.80 386.30 622.00 368.20 624.40 368.20C626.24 368.20 627.47 390.07 629.00 401.00" fill="none" stroke="#f00" stroke-width="3.3" stroke-linejoin="round" stroke-linecap="butt"/>
<rect x="485.50" y="299.80" width="184" height="45.7" fill="#fff"/><path d="M490.00 312.75h22.6" stroke="#00f" stroke-width="1.3"/><path d="M490.00 332.70h22.6" stroke="#f00" stroke-width="3.3"/><text x="516.70" y="318.90" class="lg">Filtered signal</text><text x="516.70" y="338.80" class="lg">Cubic-spline envelope</text>
<text x="369.4" y="291.2" text-anchor="middle" class="tt">Channel 2</text>
<text x="369.4" y="544.6" text-anchor="middle" class="lb">Time (s)</text>
<text transform="translate(13.4 398.2) rotate(-90)" text-anchor="middle" class="lb">Amplitude</text>
</svg>
</body></html>
